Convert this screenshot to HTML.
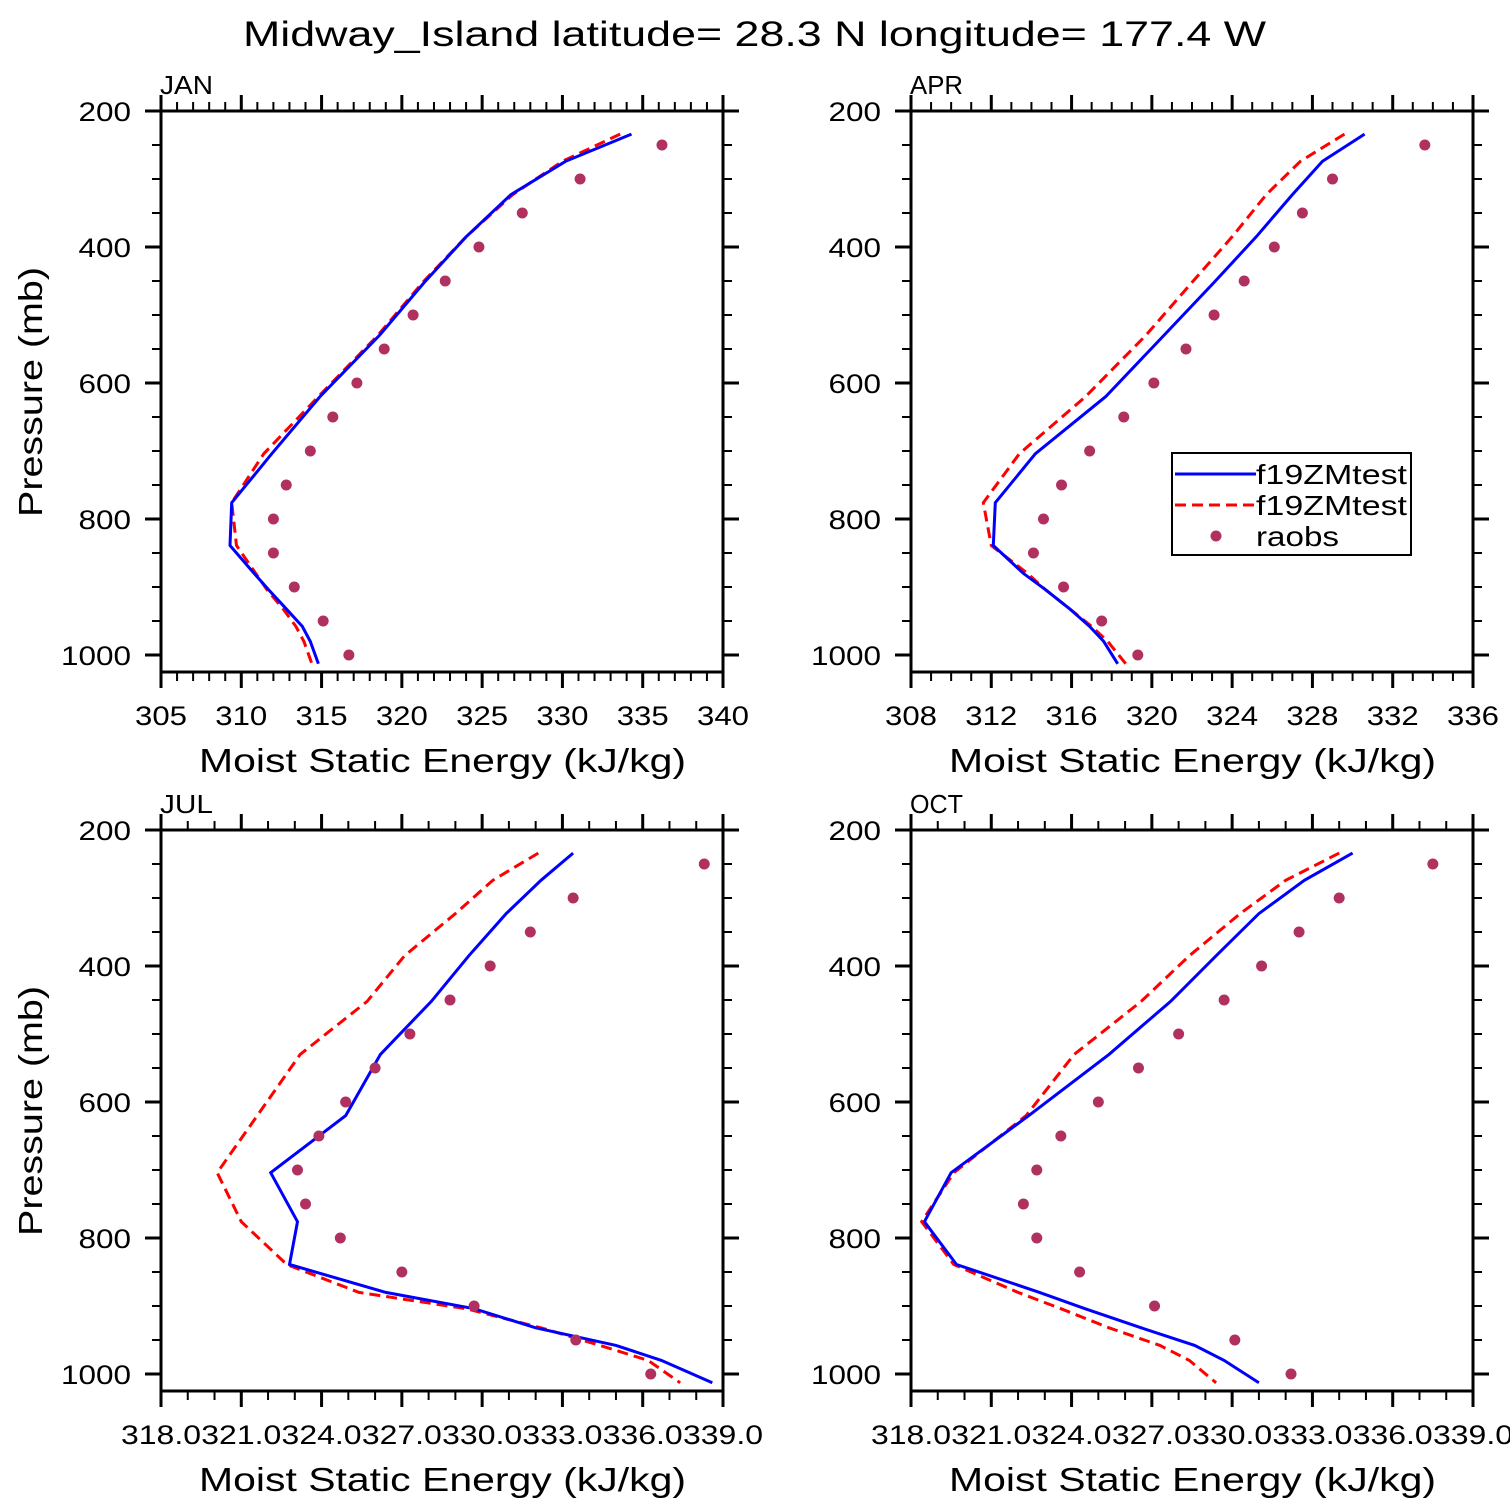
<!DOCTYPE html>
<html><head><meta charset="utf-8"><style>
html,body{margin:0;padding:0;background:#fff;}
svg{display:block;font-family:"Liberation Sans",sans-serif;}
</style></head><body>
<svg id="chart" width="1510" height="1510" viewBox="0 0 1510 1510" xmlns="http://www.w3.org/2000/svg">
<rect width="1510" height="1510" fill="#fff"/>
<text x="243" y="46" font-size="35" textLength="1023" lengthAdjust="spacingAndGlyphs" fill="#000">Midway_Island  latitude= 28.3 N longitude= 177.4 W</text>
</svg>
<script>
const modelLevels = [234, 274, 323, 385, 452, 530, 620, 704, 776, 839, 880, 904, 932, 958, 980, 1013];
const obsLevels = [250, 300, 350, 400, 450, 500, 550, 600, 650, 700, 750, 800, 850, 900, 950, 1000];
const pressureTicks = [200, 400, 600, 800, 1000];

const janBlue = [334.3,330.2,326.8,324.0,321.4,318.6,314.9,311.9,309.4,309.3,310.8,311.7,312.8,313.8,314.3,314.8];
const janRed  = [333.6,330.0,326.9,324.0,321.3,318.5,314.8,311.4,309.4,309.7,310.9,311.6,312.6,313.4,313.9,314.4];
const janObs  = [336.2,331.1,327.5,324.8,322.7,320.7,318.9,317.2,315.7,314.3,312.8,312.0,312.0,313.3,315.1,316.7];
const janTicks = ["305","310","315","320","325","330","335","340"];

const aprBlue = [330.6,328.5,327.0,325.2,323.1,320.6,317.7,314.2,312.2,312.1,313.6,314.7,315.9,316.9,317.6,318.3];
const aprRed  = [329.6,327.4,325.7,324.0,322.0,319.7,316.7,313.4,311.6,312.0,313.8,314.7,315.9,317.0,317.8,318.7];
const aprObs  = [333.6,329.0,327.5,326.1,324.6,323.1,321.7,320.1,318.6,316.9,315.5,314.6,314.1,315.6,317.5,319.3];
const aprTicks = ["308","312","316","320","324","328","332","336"];

const julBlue = [333.4,332.2,330.9,329.5,328.1,326.2,324.9,322.1,323.1,322.8,326.4,329.7,332.0,335.0,336.7,338.6];
const julRed  = [332.1,330.4,329.0,327.1,325.7,323.2,321.6,320.1,321.0,322.7,325.4,329.4,332.2,334.4,336.2,337.4];
const julObs  = [338.3,333.4,331.8,330.3,328.8,327.3,326.0,324.9,323.9,323.1,323.4,324.7,327.0,329.7,333.5,336.3];
const julTicks = ["318.0","321.0","324.0","327.0","330.0","333.0","336.0","339.0"];

const octBlue = [334.5,332.7,331.0,329.4,327.7,325.4,322.4,319.5,318.5,319.7,322.8,324.5,326.6,328.6,329.7,331.0];
const octRed  = [334.0,332.0,330.3,328.4,326.6,324.1,322.3,319.6,318.4,319.6,322.0,323.6,325.4,327.3,328.4,329.4];
const octObs  = [337.5,334.0,332.5,331.1,329.7,328.0,326.5,325.0,323.6,322.7,322.2,322.7,324.3,327.1,330.1,332.2];
const octTicks = ["318.0","321.0","324.0","327.0","330.0","333.0","336.0","339.0"];

const svg = document.getElementById('chart');
const NS = 'http://www.w3.org/2000/svg';
function mk(tag, attrs, parent){
  const e = document.createElementNS(NS, tag);
  for (const k in attrs) e.setAttribute(k, attrs[k]);
  (parent||svg).appendChild(e);
  return e;
}

function panel(cfg){
  const g = mk('g', {});
  
  
  const L = cfg.x0, R = cfg.x0 + 562, T = cfg.y0, B = cfg.y0 + 561;
  const xs = v => L + (v - cfg.xmin) / (cfg.xmax - cfg.xmin) * 562;
  const ys = p => T + (p - 200) / 825 * 561;

  const fr = mk('rect', {x:L, y:T, width:562, height:561, fill:'none', stroke:'#000', 'stroke-width':3}, g);
  
  

  const nMaj = cfg.ticks.length;
  const step = (cfg.xmax - cfg.xmin) / (nMaj - 1);
  const minorStep = step / cfg.minorDiv;
  for (let v = cfg.xmin; v <= cfg.xmax + 1e-6; v += minorStep){
    const X = xs(v);
    const isMaj = Math.abs(((v - cfg.xmin) / step) - Math.round((v - cfg.xmin) / step)) < 1e-6;
    const len = isMaj ? 16 : 9;
    mk('line', {x1:X, x2:X, y1:B, y2:B+len, stroke:'#000', 'stroke-width':isMaj?3:2}, g);
    mk('line', {x1:X, x2:X, y1:T, y2:T-len, stroke:'#000', 'stroke-width':isMaj?3:2}, g);
  }
  cfg.ticks.forEach((t, i) => {
    const w = t.length > 3 ? 80 : 52;
    const tx = mk('text', {x:xs(cfg.xmin + i*step) - w/2, y:B+53, 'font-size':27, textLength:w, lengthAdjust:'spacingAndGlyphs', fill:'#000'}, g);
    
    
    tx.textContent = t;
  });
  for (let p = 200; p <= 1000; p += 50){
    const Y = ys(p);
    const isMaj = p % 200 === 0;
    const len = isMaj ? 16 : 9;
    mk('line', {x1:L, x2:L-len, y1:Y, y2:Y, stroke:'#000', 'stroke-width':isMaj?3:2}, g);
    mk('line', {x1:R, x2:R+len, y1:Y, y2:Y, stroke:'#000', 'stroke-width':isMaj?3:2}, g);
  }
  pressureTicks.forEach(p => {
    const w = String(p).length * 17.5;
    const tx = mk('text', {x:L-30-w, y:ys(p)+10, 'font-size':27, textLength:w, lengthAdjust:'spacingAndGlyphs', fill:'#000'}, g);
    
    
    tx.textContent = p;
  });
  const lab = mk('text', {x:L-1, y:T-17, 'font-size':26, textLength:53, lengthAdjust:'spacingAndGlyphs', fill:'#000'}, g);
  
  
  lab.textContent = cfg.label;
  const xt = mk('text', {x:L+38, y:B+100, 'font-size':33, textLength:487, lengthAdjust:'spacingAndGlyphs', fill:'#000'}, g);
  
  
  xt.textContent = 'Moist Static Energy (kJ/kg)';
  if (cfg.showY){
    const yt = mk('text', {x:-125, y:0, 'font-size':33, textLength:250, lengthAdjust:'spacingAndGlyphs', fill:'#000', transform:`translate(42,${T+281}) rotate(-90)`}, g);
    
    
    yt.textContent = 'Pressure (mb)';
  }
  const pts = arr => arr.map((v, i) => xs(v).toFixed(1) + ',' + ys(modelLevels[i]).toFixed(1)).join(' ');
  const red = mk('polyline', {points:pts(cfg.red), fill:'none', stroke:'#ff0000', 'stroke-width':3, 'stroke-dasharray':'11,6'}, g);
  
  
  const blue = mk('polyline', {points:pts(cfg.blue), fill:'none', stroke:'#0000ff', 'stroke-width':3}, g);
  
  
  cfg.obs.forEach((v, i) => {
    const c = mk('circle', {cx:xs(v), cy:ys(obsLevels[i]), r:5.5, fill:'#b03060'}, g);
    
    
  });
}

panel({name:'jan', label:'JAN', x0:161, y0:111, xmin:305, xmax:340, minorDiv:5, ticks:janTicks, blue:janBlue, red:janRed, obs:janObs, showY:true});
panel({name:'apr', label:'APR', x0:911, y0:111, xmin:308, xmax:336, minorDiv:4, ticks:aprTicks, blue:aprBlue, red:aprRed, obs:aprObs, showY:false});
panel({name:'jul', label:'JUL', x0:161, y0:830, xmin:318, xmax:339, minorDiv:3, ticks:julTicks, blue:julBlue, red:julRed, obs:julObs, showY:true});
panel({name:'oct', label:'OCT', x0:911, y0:830, xmin:318, xmax:339, minorDiv:3, ticks:octTicks, blue:octBlue, red:octRed, obs:octObs, showY:false});

const lg = mk('g', {});


mk('rect', {x:1172, y:453, width:239, height:102, fill:'#fff', stroke:'#000', 'stroke-width':2}, lg);
mk('line', {x1:1175, x2:1256, y1:474, y2:474, stroke:'#0000ff', 'stroke-width':3}, lg);
mk('line', {x1:1175, x2:1256, y1:505, y2:505, stroke:'#ff0000', 'stroke-width':3, 'stroke-dasharray':'11,6'}, lg);
mk('circle', {cx:1216, cy:536, r:5.5, fill:'#b03060'}, lg);
[['f19ZMtest',484,'legend-entry-blue',151],['f19ZMtest',515,'legend-entry-red',151],['raobs',546,'legend-entry-raobs',83]].forEach((d) => {
  const t = mk('text', {x:1256, y:d[1], 'font-size':28, textLength:d[3], lengthAdjust:'spacingAndGlyphs', fill:'#000'}, lg);
  
  
  t.textContent = d[0];
});
</script>
</body></html>
